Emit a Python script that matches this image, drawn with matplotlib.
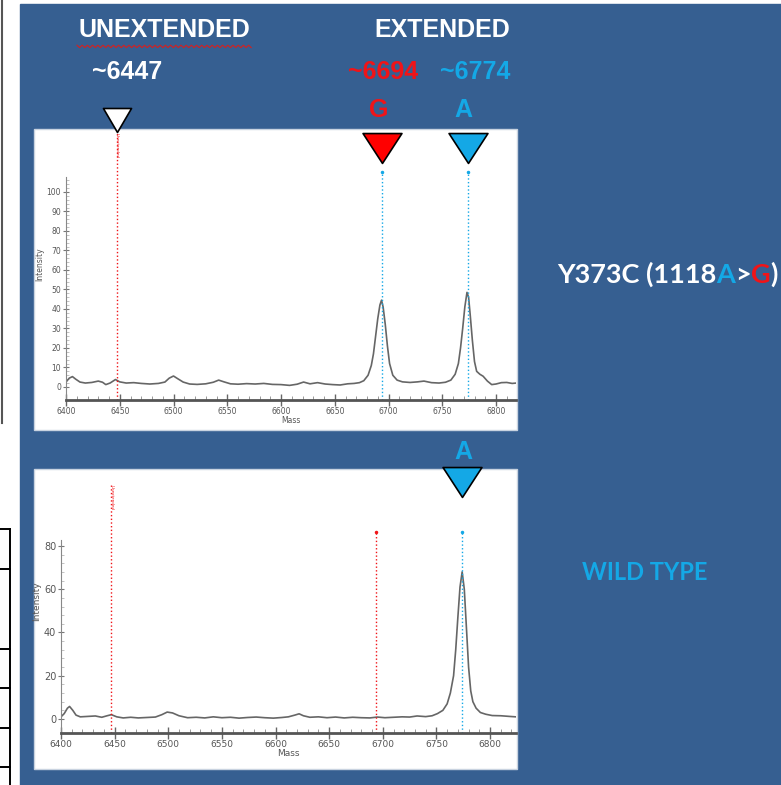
import numpy as np
import matplotlib
matplotlib.use("Agg")
import matplotlib.pyplot as plt
from matplotlib.patches import Rectangle
from matplotlib.path import Path
from matplotlib.ticker import FixedLocator

# ---------------- data ----------------
top_mass = [6400, 6403, 6406, 6409, 6413, 6418, 6424, 6430, 6434, 6437, 6441, 6446, 6450,
            6456, 6463, 6470, 6478, 6486, 6492, 6496, 6500, 6504, 6509, 6515, 6522, 6530,
            6537, 6542, 6547, 6553, 6560, 6568, 6576, 6584, 6592, 6600, 6608, 6615, 6621,
            6627, 6634, 6641, 6648, 6655, 6662, 6668, 6673, 6677, 6681, 6684, 6686, 6688,
            6690, 6692, 6693.5, 6695, 6697, 6699, 6701, 6704, 6708, 6713, 6720, 6727, 6733,
            6740, 6747, 6753, 6758, 6762, 6765, 6767, 6769, 6771, 6773, 6774.5, 6776, 6778,
            6780, 6782, 6785, 6788, 6792, 6796, 6800, 6805, 6810, 6815, 6819]
top_int = [2.5, 4.5, 5.3, 4.0, 2.5, 2.0, 2.3, 3.0, 2.4, 1.2, 2.0, 3.8, 2.6,
           2.0, 2.2, 1.8, 1.5, 1.8, 2.5, 4.5, 5.6, 4.2, 2.5, 1.5, 1.3, 1.6,
           2.4, 3.5, 2.6, 1.6, 1.4, 1.7, 1.5, 1.8, 1.3, 1.2, 0.8, 1.4, 2.5,
           1.6, 2.2, 1.5, 1.2, 1.0, 1.6, 1.8, 2.2, 3.2, 6.0, 11, 17, 26,
           35, 42, 44.5, 41, 32, 21, 12, 6.0, 3.5, 2.6, 2.3, 2.6, 3.0,
           2.2, 2.0, 2.4, 3.5, 6.5, 12, 20, 30, 41, 48.5, 46, 37, 24,
           13, 8.0, 6.5, 5.5, 3.0, 1.2, 1.5, 2.2, 2.3, 1.8, 2.0]

wt_mass = [6400, 6403, 6406, 6408, 6411, 6414, 6418, 6425, 6432, 6438, 6443, 6447, 6452,
           6458, 6465, 6472, 6480, 6488, 6494, 6499, 6504, 6510, 6518, 6526, 6534, 6542,
           6550, 6558, 6566, 6574, 6582, 6590, 6598, 6606, 6612, 6618, 6622, 6626, 6632,
           6640, 6648, 6656, 6664, 6672, 6680, 6688, 6695, 6702, 6710, 6718, 6725, 6732,
           6740, 6746, 6751, 6756, 6760, 6763, 6766, 6768, 6770, 6772, 6774, 6776, 6778,
           6780, 6782, 6784, 6787, 6791, 6796, 6802, 6810, 6818, 6824]
wt_int = [1.0, 2.5, 5.0, 5.8, 4.0, 1.8, 1.0, 1.2, 1.4, 0.8, 1.5, 2.0, 1.0,
          0.5, 0.8, 0.5, 0.7, 0.9, 2.0, 3.2, 2.8, 1.5, 0.6, 0.8, 0.5, 1.0,
          0.6, 0.8, 0.4, 0.7, 0.9, 0.6, 0.4, 0.7, 1.0, 1.8, 2.4, 1.5, 0.8,
          1.0, 0.6, 0.9, 0.5, 0.8, 0.6, 0.5, 0.9, 0.6, 0.8, 1.0, 0.9, 1.4,
          1.1, 1.5, 2.5, 4.0, 7, 12, 20, 32, 47, 61, 68, 60, 42,
          24, 13, 8, 5, 3.0, 2.2, 1.6, 1.5, 1.2, 1.0]

unext_mass = 6447          # unextended primer
ext_g_mass = 6694          # extended G
ext_a_mass = 6774          # extended A

mass_ticks = [6400, 6450, 6500, 6550, 6600, 6650, 6700, 6750, 6800]
top_yticks = [0, 10, 20, 30, 40, 50, 60, 70, 80, 90, 100]
wt_yticks = [0, 20, 40, 60, 80]

# ---------------- style ----------------
BG = "#365F91"
RED = "#F01418"
CYAN = "#14A8E6"
GRAY = "#666666"
HEAD = ["Liberation Sans", "DejaVu Sans"]
BODY = ["Lato", "DejaVu Sans"]

W, H = 781, 785
fig = plt.figure(figsize=(W / 100, H / 100), dpi=100)
fig.patch.set_facecolor("white")

ax0 = fig.add_axes([0, 0, 1, 1], zorder=0)
ax0.set_xlim(0, W)
ax0.set_ylim(H, 0)
ax0.axis("off")

ax0.add_patch(Rectangle((20, 4), W - 20, H - 4, color=BG, zorder=0))
ax0.plot([1.5, 1.5], [0, 423], color="#555555", lw=1.5)
for yy in [529, 569, 649, 688, 728, 767]:
    ax0.plot([0, 10], [yy, yy], color="black", lw=1.4)
ax0.plot([10, 10], [529, H], color="black", lw=1.4)

for (bx, by, bw, bh) in [(34, 129, 483, 301), (34, 469, 483, 300)]:
    ax0.add_patch(Rectangle((bx, by), bw, bh, facecolor="white",
                            edgecolor="#c9d3e0", lw=1.0, zorder=1))

def label(x, y, s, color="white", size=18, family=HEAD, ha="center"):
    return ax0.text(x, y, s, color=color, fontsize=size, fontweight="bold",
                    family=family, ha=ha, va="center")

label(164, 30, "UNEXTENDED")
zx = np.arange(77, 253, 2.6)
zy = np.where(np.arange(len(zx)) % 2 == 0, 45.2, 47.6)
ax0.plot(zx, zy, color="#d42020", lw=0.8)
label(127, 72, "~6447")
label(442, 30, "EXTENDED")
label(383, 72, "~6694", color=RED)
label(475, 72, "~6774", color=CYAN)
label(379, 110, "G", color=RED)
label(463, 110, "A", color=CYAN)
label(463, 452, "A", color=CYAN)
label(645, 572, "WILD TYPE", color=CYAN, size=17, family=BODY)

pieces = [("Y373C (1118", "white"), ("A", CYAN), (">", "white"), ("G", RED), (")", "white")]
prev = None
for s, c in pieces:
    if prev is None:
        prev = ax0.text(557, 274, s, color=c, fontsize=19.5, fontweight="bold",
                        family=BODY, ha="left", va="center")
    else:
        prev = ax0.annotate(s, xy=(1, 0), xycoords=prev, color=c, fontsize=19.5,
                            fontweight="bold", family=BODY, ha="left", va="bottom")

def tri(half):
    return Path([(-half, 1), (half, 1), (0, -1), (-half, 1)],
                [Path.MOVETO, Path.LINETO, Path.LINETO, Path.CLOSEPOLY])

TRI_WIDE = tri(1.3)
TRI_WHITE = tri(1.17)

def style_axes(ax, ylo, ytop_spine, yticks, yminor_step, xlab, ylab):
    ax.set_facecolor("none")
    for s in ["top", "right"]:
        ax.spines[s].set_visible(False)
    ax.spines["left"].set_bounds(ylo, ytop_spine)
    ax.spines["left"].set_color("#888888")
    ax.spines["left"].set_linewidth(0.8)
    ax.spines["bottom"].set_color("#555555")
    ax.spines["bottom"].set_linewidth(2.0)
    lo, hi = ax.get_xlim()
    ax.xaxis.set_major_locator(FixedLocator(mass_ticks))
    ax.xaxis.set_minor_locator(FixedLocator(np.arange(6400, hi, 10)))
    ax.yaxis.set_major_locator(FixedLocator(yticks))
    ax.yaxis.set_minor_locator(FixedLocator(np.arange(0, ytop_spine, yminor_step)))
    ax.tick_params(axis="x", which="major", direction="inout", length=8, width=1,
                   color="#666666", labelsize=xlab, labelcolor="#555555", pad=1)
    ax.tick_params(axis="x", which="minor", direction="in", length=3, width=0.6,
                   color="#888888")
    ax.tick_params(axis="y", which="major", direction="inout", length=5, width=0.8,
                   color="#777777", labelsize=ylab, labelcolor="#555555", pad=1)
    ax.tick_params(axis="y", which="minor", direction="in", length=2, width=0.5,
                   color="#aaaaaa")
    ax.set_xlabel("Mass", fontsize=xlab, color="#555555", labelpad=0)
    ax.set_ylabel("Intensity", fontsize=xlab, color="#555555", labelpad=2)

# ---------------- top panel ----------------
axT = fig.add_axes([66 / W, 1 - 400 / H, 450 / W, 271 / H], zorder=2)
axT.set_xlim(6400, 6818.6)
axT.set_ylim(-6.7, 132.3)
axT.plot(top_mass, top_int, color=GRAY, lw=1.2)
style_axes(axT, -6.7, 107.7, top_yticks, 2, 5.5, 5.5)
axT.vlines(unext_mass, -6.7, 131, colors=RED, linestyles=":", lw=1.0)
axT.vlines([ext_g_mass, ext_a_mass], -6.7, 110, colors=CYAN, linestyles=":", lw=1.0)
axT.plot([ext_g_mass, ext_a_mass], [110, 110], ls="none", marker=".", ms=3, color=CYAN)
axT.text(unext_mass, 130, "Unextended", rotation=-90, fontsize=3, color=RED,
         ha="center", va="top")
axT.plot([unext_mass], [136.9], marker=TRI_WHITE, ms=20.2, mfc="white", mec="black",
         mew=1.2, ls="none", clip_on=False)
axT.plot([ext_g_mass], [122.6], marker=TRI_WIDE, ms=28, mfc="#FF0000", mec="black",
         mew=1.2, ls="none", clip_on=False)
axT.plot([ext_a_mass], [122.6], marker=TRI_WIDE, ms=28, mfc=CYAN, mec="black",
         mew=1.2, ls="none", clip_on=False)

# ---------------- wild type panel ----------------
axB = fig.add_axes([61 / W, 1 - 733 / H, 455 / W, 263 / H], zorder=2)
axB.set_xlim(6400, 6824.2)
axB.set_ylim(-6.47, 115.1)
axB.plot(wt_mass, wt_int, color=GRAY, lw=1.2)
style_axes(axB, -6.47, 82.8, wt_yticks, 4, 6.5, 7)
axB.vlines(unext_mass, -6.47, 108, colors=RED, linestyles=":", lw=1.0)
axB.vlines(ext_g_mass, -6.47, 86.5, colors=RED, linestyles=":", lw=1.0)
axB.vlines(ext_a_mass, -6.47, 86.5, colors=CYAN, linestyles=":", lw=1.0)
axB.plot([ext_g_mass], [86.5], ls="none", marker=".", ms=3, color=RED)
axB.plot([ext_a_mass], [86.5], ls="none", marker=".", ms=3, color=CYAN)
axB.text(unext_mass, 108, "Unextended", rotation=-90, fontsize=3, color=RED,
         ha="center", va="top")
axB.plot([ext_a_mass], [109.6], marker=TRI_WIDE, ms=28, mfc=CYAN, mec="black",
         mew=1.2, ls="none", clip_on=False)

fig.savefig("out.png", dpi=100)
